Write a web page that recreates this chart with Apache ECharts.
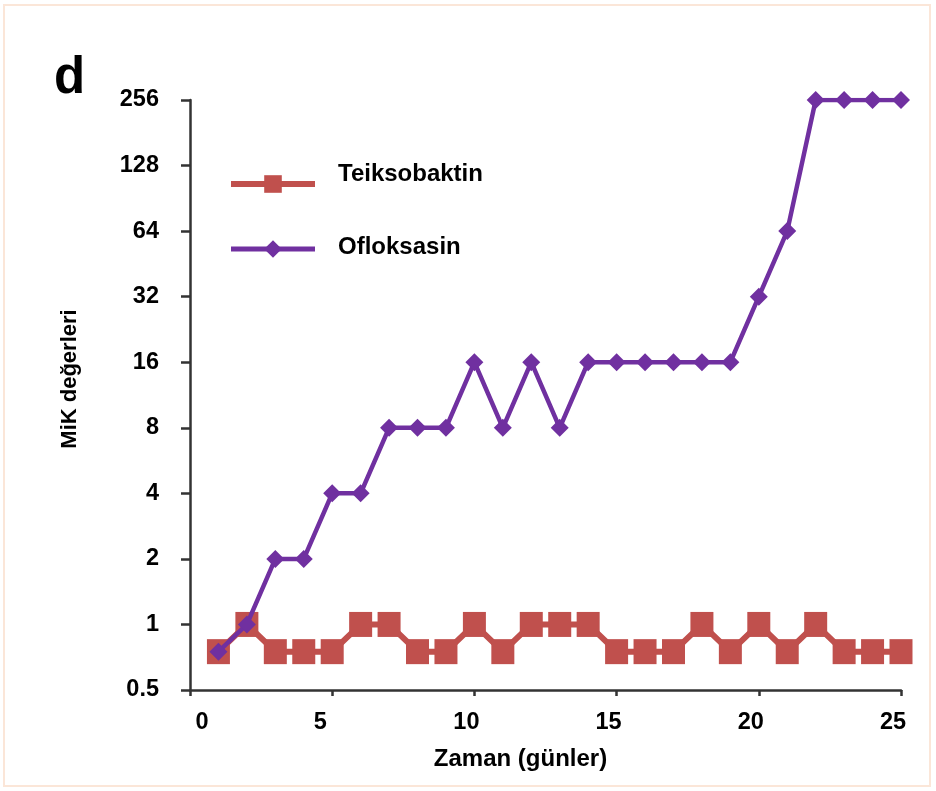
<!DOCTYPE html>
<html>
<head>
<meta charset="utf-8">
<script src="https://cdn.jsdelivr.net/npm/echarts@6/dist/echarts.min.js"></script>
<style>
html,body{margin:0;padding:0;background:#fff;}
#wrap{position:absolute;left:3px;top:4px;width:928px;height:783px;border:2px solid #fbe6d8;box-sizing:border-box;}
#chart{position:absolute;left:0;top:0;width:936px;height:791px;}
</style>
</head>
<body>
<div id="wrap"></div>
<div id="chart"></div>
<script>
const days = [1,2,3,4,5,6,7,8,9,10,11,12,13,14,15,16,17,18,19,20,21,22,23,24,25];
const teiksobaktin = [0.75,1,0.75,0.75,0.75,1,1,0.75,0.75,1,0.75,1,1,1,0.75,0.75,0.75,1,0.75,1,0.75,1,0.75,0.75,0.75];
const ofloksasin = [0.75,1,2,2,4,4,8,8,8,16,8,16,8,16,16,16,16,16,16,32,64,256,256,256,256];
const xTicks = [0,5,10,15,20,25];
const yTicks = [0.5,1,2,4,8,16,32,64,128,256];

const font = '"Liberation Sans", Arial, sans-serif';
const lab = {fontFamily: font, fontWeight: 'bold', fontSize: 23.5, color: '#000'};
const legText = {fontFamily: font, fontWeight: 'bold', fontSize: 24, color: '#000', lineHeight: 24};
const chart = echarts.init(document.getElementById('chart'));
chart.setOption({
  backgroundColor: 'transparent',
  animation: false,
  title: {
    text: 'd', left: 49, top: 48,
    textStyle: {fontFamily: font, fontWeight: 'bold', fontSize: 51, color: '#000'}
  },
  legend: {
    orient: 'vertical', left: 228, top: 162, itemGap: 29, padding: 0,
    itemWidth: 84, itemHeight: 22,
    formatter: name => (name === 'Ofloksasin' ? '{u|' : '{t|') + name + '}',
    textStyle: {fontFamily: font, fontWeight: 'bold', fontSize: 24, color: '#000', padding: [0,0,0,18],
      rich: {
        t: Object.assign({}, legText, {padding: [0,0,20,0]}),
        u: Object.assign({}, legText, {padding: [0,0,4,0]})
      }},
    data: [
      {name: 'Teiksobaktin', lineStyle: {width: 6}},
      {name: 'Ofloksasin', lineStyle: {width: 5}}
    ]
  },
  grid: {left: 190, right: 35, top: 100, bottom: 101, containLabel: false},
  xAxis: {
    type: 'value', min: 0, max: 25, interval: 5,
    name: 'Zaman (günler)', nameLocation: 'middle', nameGap: 57,
    nameTextStyle: Object.assign({}, lab, {fontSize: 24, padding: [0, 50, 0, 0]}),
    axisLine: {lineStyle: {color: '#333', width: 2.5}},
    axisTick: {show: true, length: 6, lineStyle: {color: '#333', width: 2.5}},
    axisLabel: Object.assign({}, lab, {margin: 21,
      formatter: v => {
        if (!xTicks.includes(v)) return '';
        if (v === 0) return '{z|' + v + '}';
        if (v === 5) return '{f|' + v + '}';
        return '{o|' + v + '}';
      },
      rich: {
        z: Object.assign({}, lab, {padding: [0, 0, 0, 24]}),
        f: Object.assign({}, lab, {padding: [0, 24, 0, 0]}),
        o: Object.assign({}, lab, {padding: [0, 16, 0, 0]})
      }
    }),
    splitLine: {show: false}
  },
  yAxis: {
    type: 'log', logBase: 2, min: 0.5, max: 256, interval: 1,
    axisLine: {show: true, lineStyle: {color: '#333', width: 2.5}},
    axisTick: {show: true, length: 9, lineStyle: {color: '#333', width: 2.5}},
    axisLabel: Object.assign({}, lab, {margin: 31,
      formatter: v => { const m = yTicks.find(t => Math.abs(t - v) < 1e-6); return m !== undefined ? String(m) : ''; }}),
    splitLine: {show: false}
  },
  graphic: [{
    type: 'text', x: 70, y: 379, rotation: Math.PI / 2,
    style: {text: 'MiK değerleri', fontFamily: font, fontWeight: 'bold', fontSize: 22, fill: '#000',
      align: 'center', verticalAlign: 'middle'}
  }],
  series: [
    {
      name: 'Teiksobaktin', type: 'line',
      data: days.map((d, i) => [d, teiksobaktin[i]]),
      symbol: 'rect', symbolSize: [23, 25],
      itemStyle: {color: '#c0504d'},
      lineStyle: {color: '#c0504d', width: 6},
      z: 2
    },
    {
      name: 'Ofloksasin', type: 'line',
      data: days.map((d, i) => [d, ofloksasin[i]]),
      symbol: 'diamond', symbolSize: 18,
      itemStyle: {color: '#7030a0'},
      lineStyle: {color: '#7030a0', width: 4.5},
      z: 3
    }
  ]
});
</script>
</body>
</html>
